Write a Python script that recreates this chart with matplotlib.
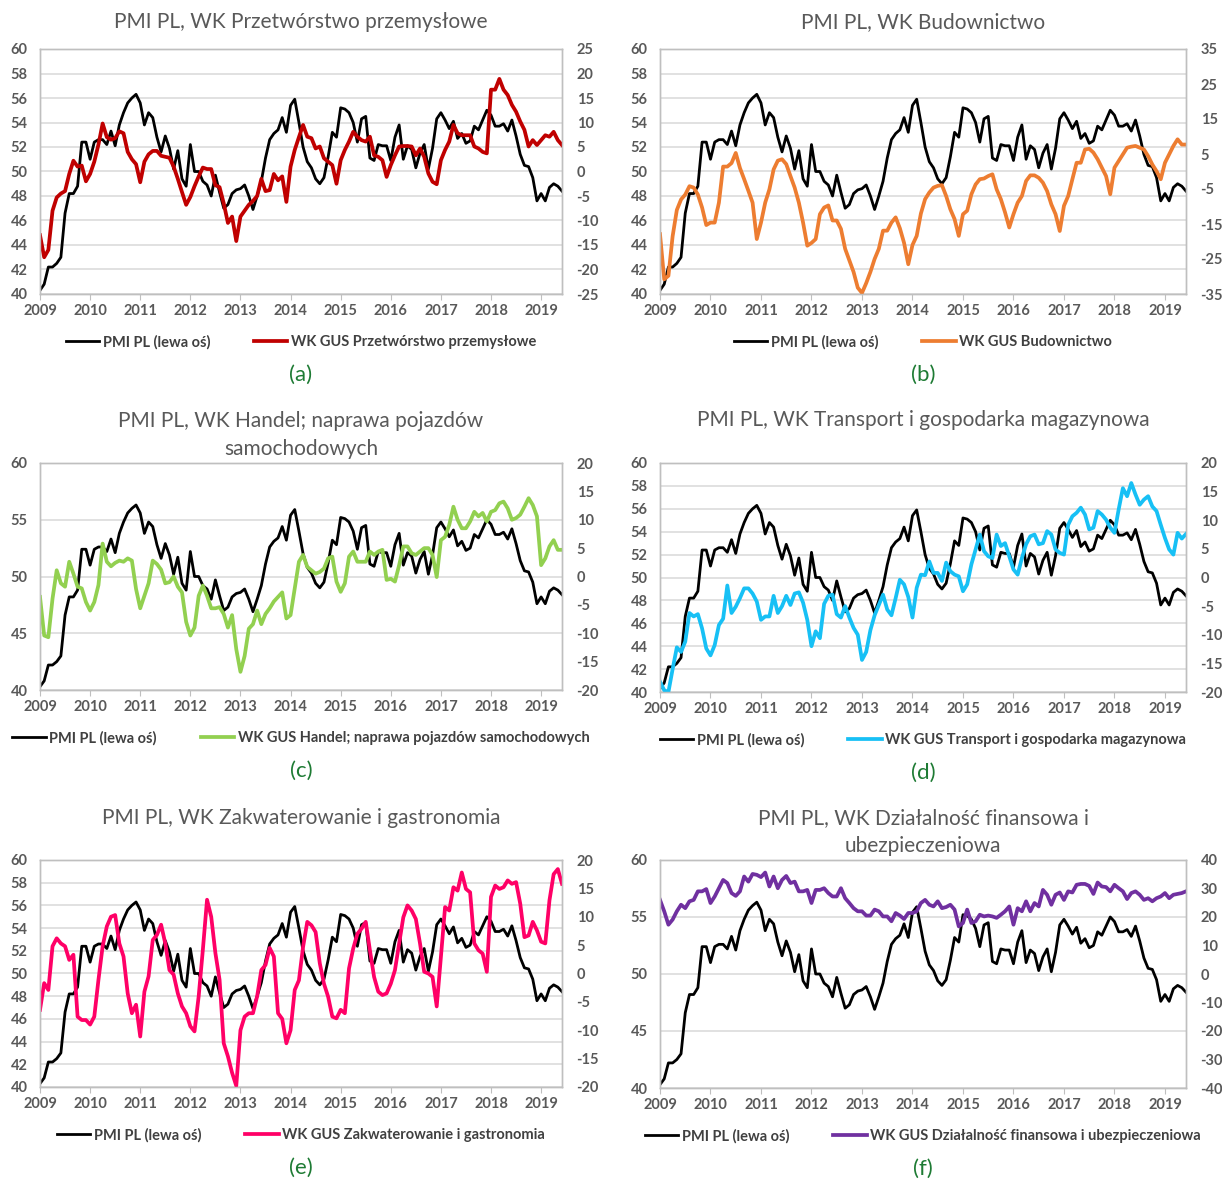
import numpy as np
import matplotlib
matplotlib.use("Agg")
from matplotlib import pyplot as plt
from matplotlib.lines import Line2D

plt.rcParams['font.family'] = ['Lato', 'DejaVu Sans']
plt.rcParams['axes.unicode_minus'] = False

# PMI PL, 2009-01 .. 2019-06
pmi = [40.3, 40.8, 42.2, 42.2, 42.5, 43.0, 46.6, 48.2, 48.2, 48.8, 52.4, 52.4,
       51.0, 52.4, 52.6, 52.6, 52.2, 53.3, 52.1, 53.8, 54.8, 55.6, 56.0, 56.3,
       55.6, 53.8, 54.8, 54.4, 52.8, 51.6, 52.9, 51.9, 50.2, 51.7, 49.4, 48.8,
       52.2, 50.0, 50.0, 49.2, 48.9, 48.0, 49.7, 48.3, 47.0, 47.3, 48.2, 48.5,
       48.6, 48.9, 48.0, 46.9, 48.0, 49.2, 51.1, 52.6, 53.1, 53.4, 54.4, 53.2,
       55.4, 55.9, 54.0, 52.0, 50.8, 50.3, 49.4, 49.0, 49.5, 51.2, 53.2, 52.8,
       55.2, 55.1, 54.8, 54.0, 52.4, 54.3, 54.5, 51.1, 50.9, 52.2, 52.1, 52.1,
       50.9, 52.8, 53.8, 51.0, 52.1, 51.8, 50.3, 51.5, 52.2, 50.2, 51.9, 54.3,
       54.8, 54.2, 53.5, 54.1, 52.7, 53.1, 52.3, 52.5, 53.7, 53.4, 54.2, 55.0,
       54.6, 53.7, 53.7, 53.9, 53.3, 54.2, 52.9, 51.4, 50.5, 50.4, 49.5, 47.6,
       48.2, 47.6, 48.7, 49.0, 48.8, 48.4]

wk_przetworstwo = [-13, -17.5, -16, -8, -5.3, -4.5, -4, -0.5, 2.2, 1, 1.2, -2,
                   -0.5, 2, 5.5, 9.8, 7, 6.5, 6.8, 8.2, 7.8, 4, 2.5, 1.5,
                   -2.2, 2, 3.5, 4.2, 4.2, 3.2, 3, 2.8, 1, -1.5, -4.2, -6.8,
                   -5.2, -3, -1, 0.8, 0.5, 0.5, -2.8, -3.2, -6.5, -10.5, -9.2, -14.2,
                   -9.2, -8, -6.8, -6, -5, -1.5, -4, -3.8, -0.5, -1.8, -1, -6.2,
                   1, 4.4, 7, 9.5, 7.1, 6.8, 4.7, 5.1, 2.7, 2, 1.3, -2.5,
                   2.3, 4.4, 6.1, 8.1, 7.1, 6.4, 6.1, 7.1, 3.3, 3, 2.3, -1.1,
                   1.3, 3.3, 5.1, 5.2, 5.2, 5.1, 3.3, 4.7, 3, -0.4, -2.1, -2.6,
                   2.3, 4.4, 6.1, 9.5, 7.8, 7.4, 7.4, 7.4, 5.1, 4.7, 4, 3.7,
                   16.7, 16.7, 18.9, 16.7, 15.6, 13.6, 12.2, 10.2, 8.5, 5.1, 6.4, 5.4,
                   6.4, 7.4, 7.1, 8.1, 6.4, 5.4]

wk_budownictwo = [-17.9, -30.8, -29.8, -18.5, -11, -8, -6.6, -4.2, -4.6, -6.6, -10.3, -15.3,
                  -14.6, -14.6, -8.9, 1.4, 1.4, 2.4, 5.3, 1, -2.2, -5.5, -8.9, -19.3,
                  -14.6, -8.9, -5.1, 0.6, 3.1, 3.5, 2.1, -1.3, -4.6, -8.9, -14.6, -21.2,
                  -20.4, -19.3, -12.2, -10.3, -9.7, -14, -14, -16.4, -22.1, -25.4, -28.7, -33.2,
                  -34.7, -31.9, -28.7, -25, -22.1, -16.9, -16.9, -14.6, -13.1, -16.2, -20.4, -26.5,
                  -21, -18.4, -12, -7.9, -6, -4.6, -4.1, -3.9, -7, -10.8, -13.6, -18.4,
                  -12.2, -11.2, -6.5, -3.7, -2.2, -2, -1.3, -0.8, -5.1, -7.9, -11.7, -16,
                  -12.2, -8.9, -7, -2.7, -1.1, -1.1, -1.8, -3.2, -5.6, -9.4, -12.2, -17,
                  -9.8, -7, -2.2, 2.5, 2.5, 6.3, 6.5, 5.4, 3.5, 1.1, -1.3, -6.5,
                  1.1, 3, 4.9, 6.8, 7.1, 7.3, 6.8, 6.3, 4.4, 2, 0.1, -2.2,
                  2.5, 4.9, 7.3, 9.2, 7.7, 7.7]

wk_handel = [-3.6, -10.4, -10.7, -3.9, 1.1, -1.2, -1.8, 2.6, 0.5, -1.8, -2.1, -4.5,
             -6, -4.5, -1.5, 5.8, 2.6, 1.8, 2.4, 2.8, 2.6, 3.2, 2.8, -2.2,
             -5.6, -3.4, -1.2, 2.8, 2.2, 1.2, -1.2, -1, 0, -1.8, -2.8, -8,
             -10.4, -9, -3.4, -1.6, -3.4, -5.6, -5.6, -5.4, -6.6, -9, -6.8, -12.8,
             -16.8, -14, -9.2, -8.4, -6, -8.4, -6.6, -5.6, -4.4, -3.6, -2.8, -7.4,
             -6.8, -2.1, 2.6, 3.8, 1.7, 1.1, 0.5, 0.8, 1.4, 3.2, 3.5, -0.9,
             -2.7, -1.2, 3.5, 4.4, 2.6, 2.6, 2.6, 4.4, 3.8, 4.4, 4.7, -0.6,
             -0.4, -0.9, 2, 5.3, 5.3, 4.1, 3.8, 4.4, 5, 5, 3.8, -0.1,
             6.4, 7, 9.1, 12.3, 10, 8.5, 8.5, 9.7, 11.4, 10.6, 11.2, 9.7,
             11.4, 11.7, 12.9, 13.2, 12, 10, 10.3, 10.9, 12.3, 13.8, 12.6, 10.6,
             2, 3.2, 5.3, 6.4, 4.7, 4.7]

wk_transport = [-18.2, -19.7, -20, -16, -12.2, -13, -11.2, -6.2, -6.8, -6.4, -8.9, -12.4,
                -13.6, -11.8, -8.3, -7.2, -1.4, -6.2, -5.1, -3.6, -1.9, -1.9, -2.8, -4.2,
                -7.4, -6.8, -6.8, -3.2, -6.2, -5, -3.2, -4.8, -2.8, -2.6, -4.4, -7.4,
                -12, -9.4, -10.6, -4.6, -3.2, -3, -6.4, -7, -5, -7, -8.8, -10,
                -14.4, -13, -9.2, -6.6, -4.8, -3, -5.6, -6.6, -3.6, -0.4, -1.2, -3.4,
                -7, -1.8, 0.5, 0.4, 2.8, 0.8, 0.8, -0.6, 2.6, 1.1, 0.5, 0.2,
                -2.4, -1.2, 2.3, 4.9, 7.5, 4.6, 3.7, 3.4, 7.5, 5.5, 6, 3.7,
                1.4, 0.5, 3.4, 5.8, 7.2, 7.5, 5.8, 6, 8.1, 7.5, 4.9, 4.3,
                4, 9.2, 10.7, 11.3, 12.2, 11, 8.4, 8.7, 11.6, 11, 10.1, 8.7,
                7.8, 11.9, 15.6, 14.2, 16.5, 14.5, 12.7, 13.6, 14.2, 12.4, 11.6, 9.2,
                6.9, 4.9, 4, 7.8, 6.8, 7.6]

wk_zakwaterowanie = [-6.4, -1.7, -2.9, 4.8, 6.2, 5.3, 4.8, 2.4, 3.3, -7.6, -8.2, -8.2,
                     -9, -7.6, -1.1, 4.8, 8.3, 10, 10.3, 5.3, 3, -3.5, -7, -5.5,
                     -11.1, -3.2, -0.5, 5.9, 6.8, 8.6, 5.3, 0.6, -0.2, -3.5, -5.8, -7,
                     -9.3, -10.2, -4, 4.2, 13, 10, 3.6, -1.1, -12.3, -14.6, -17.5, -19.8,
                     -10, -7.6, -7, -7, -4, 0.6, 1.5, 4.5, 3, -7, -8, -12.3,
                     -10, -2.9, -1.2, 4.7, 9.1, 8.5, 7.3, 1.8, -1.8, -4.1, -7.6, -7.9,
                     -6.4, -7, 0.9, 4.4, 7, 7.9, 9.1, 4.1, -0.6, -3.2, -3.8, -3.5,
                     -1.8, 0.6, 5.3, 9.9, 12, 11.1, 9.6, 5.3, 0.3, 0, -0.6, -5.8,
                     2.9, 11.7, 11.1, 15.2, 14.6, 17.8, 14.9, 14.3, 5.3, 4.1, 3.5, 0.3,
                     13.5, 15.5, 14.9, 15.2, 16.4, 15.8, 16.1, 12.3, 6.4, 6.7, 9.1, 7.6,
                     5.6, 5.3, 12.9, 17.5, 18.4, 15.8]

wk_finanse = [26, 22, 17.3, 19.1, 22, 24.3, 23.1, 25.5, 26, 29, 29, 29.8,
              24.9, 27.2, 30.1, 33, 31.9, 28.4, 27.4, 29, 34.2, 32.4, 35.1, 34.8,
              34, 35.6, 30.7, 34.2, 30.1, 33, 34.4, 31.9, 32.4, 29, 29, 29.5,
              24.9, 29.5, 29.5, 30.1, 28.4, 27.2, 27.2, 30.1, 26.6, 24.9, 23.1, 22,
              22, 20.5, 20.5, 22.6, 22, 20.2, 20.2, 18.5, 21.4, 20.5, 19.3, 21.4,
              21.4, 22, 24.9, 26, 24.3, 23.7, 25.5, 23.1, 23.5, 24.3, 22.6, 16.7,
              17.9, 22.6, 17.9, 18.5, 20.8, 20.2, 20.5, 20.2, 19.7, 20.8, 22, 23.7,
              17.3, 23.1, 22, 25.5, 22, 24.9, 23.7, 29.5, 27.8, 24.3, 27.8, 28.6,
              26, 29, 28.6, 31.3, 31.6, 31.6, 30.9, 28.1, 32.1, 30.7, 30.5, 29,
              31.3, 30.1, 29, 26.3, 28.4, 29, 27.8, 26, 26.6, 25.5, 26.6, 27.2,
              28.4, 26.6, 27.8, 28.1, 28.4, 29]

years = [str(y) for y in range(2009, 2020)]

W, H = 1222, 1183
fig = plt.figure(figsize=(W / 100, H / 100), dpi=100)
fig.patch.set_facecolor('white')

GRAY = '#595959'
GRID = '#D9D9D9'
BORDER = '#BFBFBF'
LABEL_GREEN = '#1E7B34'

panels = [
    # series, colour, title, legend, box, left step, right ylim, right step, letter, title y
    (wk_przetworstwo, '#C00000', 'PMI PL, WK Przetwórstwo przemysłowe',
     'WK GUS Przetwórstwo przemysłowe', (40, 49, 562, 294), 2, (-25, 25), 5, '(a)', 22),
    (wk_budownictwo, '#ED7D31', 'PMI PL, WK Budownictwo',
     'WK GUS Budownictwo', (660, 49, 1186, 294), 2, (-35, 35), 10, '(b)', 22),
    (wk_handel, '#92D050', 'PMI PL, WK Handel; naprawa pojazdów\nsamochodowych',
     'WK GUS Handel; naprawa pojazdów samochodowych', (40, 463, 562, 690), 5, (-20, 20), 5, '(c)', 435),
    (wk_transport, '#17C0F5', 'PMI PL, WK Transport i gospodarka magazynowa',
     'WK GUS Transport i gospodarka magazynowa', (660, 463, 1186, 692), 2, (-20, 20), 5, '(d)', 420),
    (wk_zakwaterowanie, '#FF0066', 'PMI PL, WK Zakwaterowanie i gastronomia',
     'WK GUS Zakwaterowanie i gastronomia', (40, 860, 562, 1087), 2, (-20, 20), 5, '(e)', 818),
    (wk_finanse, '#7030A0', 'PMI PL, WK Działalność finansowa i\nubezpieczeniowa',
     'WK GUS Działalność finansowa i ubezpieczeniowa', (660, 860, 1186, 1088), 5, (-40, 40), 10, '(f)', 832),
]

x = np.arange(len(pmi))

for series, color, title, leg, box, lstep, rlim, rstep, letter, ty in panels:
    x0, y0, x1, y1 = box
    ax = fig.add_axes([x0 / W, 1 - y1 / H, (x1 - x0) / W, (y1 - y0) / H])
    ax2 = ax.twinx()

    ax.plot(x, pmi, color='black', lw=2.0, solid_joinstyle='round')
    ax2.plot(x, series, color=color, lw=2.7, solid_joinstyle='round')

    ax.set_xlim(0, len(pmi) - 1)
    ax.set_ylim(40, 60)
    ax.set_yticks(np.arange(40, 60.1, lstep))
    ax2.set_ylim(*rlim)
    ax2.set_yticks(np.arange(rlim[0], rlim[1] + 0.1, rstep))
    ax.set_xticks(np.arange(0, len(pmi), 12))
    ax.set_xticklabels(years)

    ax.grid(axis='y', color=GRID, lw=1.1)
    ax.set_axisbelow(True)
    for a in (ax, ax2):
        for s in a.spines.values():
            s.set_color(BORDER)
            s.set_linewidth(1.0)
        a.tick_params(axis='y', length=0, labelsize=10.5, labelcolor=GRAY)
    ax.tick_params(axis='y', pad=9)
    ax2.tick_params(axis='y', pad=10.5)
    ax.tick_params(axis='x', length=4, color=BORDER, labelsize=10.5,
                   labelcolor=GRAY, pad=3)
    for lab in ax.get_xticklabels() + ax.get_yticklabels() + ax2.get_yticklabels():
        lab.set_fontweight('bold')

    cx = (x0 + x1) / 2
    fig.text(cx / W, 1 - ty / H, title, ha='center', va='center',
             fontsize=15, color=GRAY, linespacing=1.45)

    handles = [Line2D([], [], color='black', lw=2.0),
               Line2D([], [], color=color, lw=2.7)]
    fig.legend(handles, ['PMI PL (lewa oś)', leg], loc='center',
               bbox_to_anchor=(cx / W, 1 - (y1 + 48) / H), ncol=2, frameon=False,
               handlelength=2.3, handletextpad=0.25, columnspacing=3.0,
               prop={'size': 10.5, 'weight': 'bold'}, labelcolor='#404040')

    fig.text(cx / W, 1 - (y1 + 81) / H, letter, ha='center', va='center',
             fontsize=16, color=LABEL_GREEN)

fig.savefig('out.png', dpi=100, facecolor='white')
